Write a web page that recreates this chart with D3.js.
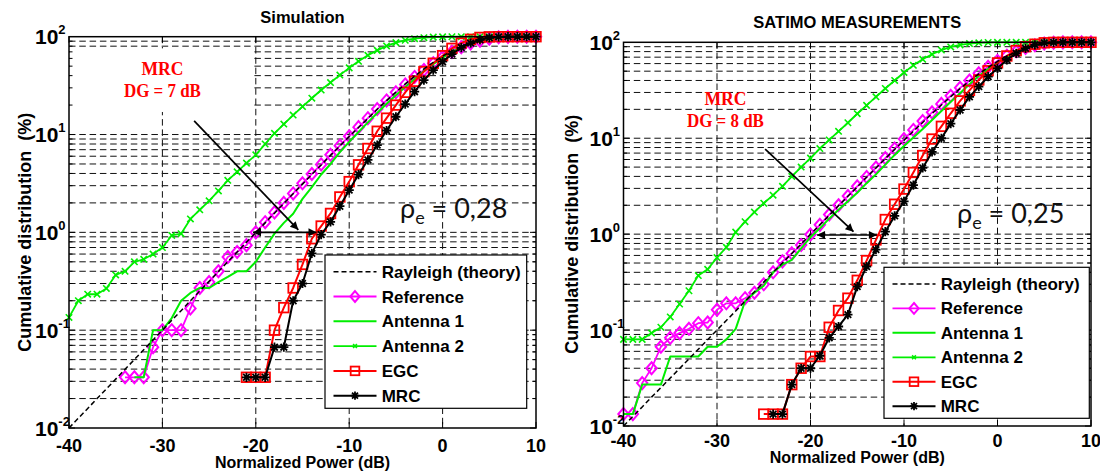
<!DOCTYPE html>
<html><head><meta charset="utf-8">
<script src="https://cdn.jsdelivr.net/npm/d3@7"></script>
<style>body{margin:0;background:#fff} svg{display:block}</style>
</head><body>
<svg id="c" width="1100" height="476"></svg>
<script>
// ---------- DATA ----------
const powerDb = [-40,-39,-38,-37,-36,-35,-34,-33,-32,-31,-30,-29,-28,-27,-26,-25,-24,-23,-22,-21,-20,-19,-18,-17,-16,-15,-14,-13,-12,-11,-10,-9,-8,-7,-6,-5,-4,-3,-2,-1,0,1,2,3,4,5,6,7,8,9,10];
const _ = null;
const rayleighTheory = [0.01,0.0126,0.0158,0.02,0.0251,0.0316,0.0398,0.0501,0.0631,0.0794,0.1,0.126,0.158,0.2,0.251,0.316,0.398,0.501,0.629,0.791,0.995,1.25,1.57,1.98,2.48,3.11,3.91,4.89,6.12,7.64,9.52,11.8,14.6,18.1,22.2,27.1,32.9,39.4,46.8,54.8,63.2,71.7,79.5,86.5,91.9,95.8,98.1,99.3,99.8,99.97,100];

// Simulation panel
const simReference = [_,_,_,_,_,_,0.033,0.033,0.033,0.067,0.1,0.1,0.1,0.167,0.27,0.31,0.4,0.56,0.63,0.74,1.0,1.27,1.6,2.0,2.5,3.17,3.95,4.95,6.2,7.7,9.6,11.9,14.7,18.2,22.3,27,32.5,38.8,45.7,53.5,61.5,70,78,85.5,91,95.5,98.5,99.6,100,100,100];
const simAntenna1 = [_,_,_,_,_,_,_,0.033,0.033,0.1,0.1,0.133,0.2,0.24,0.27,0.27,0.31,0.35,0.4,0.4,0.5,0.7,0.97,1.25,1.55,2.2,2.9,3.9,5.0,6.6,8.4,10.6,13.3,16.6,20.6,25.2,30.6,37,44.5,52.5,61,70,78.5,86,92,96,98.5,99.6,100,100,100];
const simAntenna2 = [0.135,0.2,0.233,0.233,0.267,0.367,0.4,0.5,0.53,0.6,0.7,0.93,0.97,1.37,1.7,2.1,2.65,3.4,4.15,5.1,6.2,8.0,10.3,12.8,15.8,19.3,23.5,28.5,34,40.5,48,56,64.5,72.5,80.5,87,92,95.5,97.8,99,99.6,99.9,100,100,100,100,100,100,100,100,100];
const simEGC = [_,_,_,_,_,_,_,_,_,_,_,_,_,_,_,_,_,_,_,0.033,0.033,0.033,0.1,0.17,0.27,0.47,0.86,1.16,1.56,2.3,3.3,4.9,7.2,10.8,14.7,20,27,35,44,53.5,64,76,86,94,98.3,99.7,100,100,100,100,100];
const simMRC = [_,_,_,_,_,_,_,_,_,_,_,_,_,_,_,_,_,_,_,0.033,0.033,0.033,0.067,0.067,0.2,0.3,0.61,0.95,1.28,1.85,2.7,3.9,5.5,7.8,11,15.2,20.5,27.4,36,45.5,55.5,66.5,77.5,86,93,97.5,99.5,100,100,100,100];

// SATIMO measurement panel
const measReference = [0.0133,0.0133,0.028,0.04,0.067,0.083,0.093,0.103,0.118,0.12,0.163,0.19,0.19,0.215,0.245,0.3,0.4,0.52,0.63,0.77,0.99,1.25,1.6,2.0,2.5,3.15,3.95,4.95,6.2,7.8,9.8,12.2,15.1,18.6,22.8,27.7,33.5,40,47.5,55.5,64,72.5,80.5,87.5,93,97,99,99.8,100,100,100];
const measAntenna1 = [0.0133,0.0133,0.027,0.027,0.027,0.053,0.053,0.053,0.053,0.067,0.067,0.08,0.103,0.2,0.245,0.29,0.4,0.48,0.54,0.71,0.93,1.15,1.45,1.8,2.2,2.7,3.4,4.2,5.3,6.7,8.3,10.2,12.5,15.5,19.2,24,29.5,36.5,44.5,53,61.5,70.5,79,86.5,92.5,96.5,98.8,99.7,100,100,100];
const measAntenna2 = [0.08,0.08,0.08,0.093,0.107,0.137,0.187,0.257,0.37,0.43,0.57,0.73,1.05,1.35,1.7,2.1,2.55,3.15,4.0,5.0,6.2,7.8,9.6,11.8,14.5,18,22,27,33,40,48.5,57.5,66.5,75,83,89.5,94,97,98.7,99.5,99.8,100,100,100,100,100,100,100,100,100,100];
const measEGC = [_,_,_,_,_,_,_,_,_,_,_,_,_,_,_,0.0133,0.0133,0.0133,0.027,0.04,0.053,0.053,0.107,0.16,0.215,0.33,0.53,0.87,1.42,2.05,2.95,4.4,6.6,9.8,13.3,18.2,24.5,31.5,40.5,50.5,61,72,82,90,95.5,98.8,99.8,100,100,100,100];
const measMRC = [_,_,_,_,_,_,_,_,_,_,_,_,_,_,_,_,0.0133,0.0133,0.027,0.04,0.04,0.054,0.083,0.109,0.145,0.284,0.46,0.69,1.06,1.55,2.2,3.25,4.9,7.2,10,14.2,19.7,27,34.5,43.8,53.6,65.5,76.8,86.5,94,98.5,99.8,100,100,100,100];

const xTickValues = [-40,-30,-20,-10,0,10];
const yTickExponents = [-2,-1,0,1,2];
const legendLabels = ["Rayleigh (theory)","Reference","Antenna 1","Antenna 2","EGC","MRC"];
const panelTitles = ["Simulation","SATIMO MEASUREMENTS"];
const xAxisTitle = "Normalized Power (dB)";
const yAxisTitle = "Cumulative distribution  (%)";
const dgLabels = ["DG = 7 dB","DG = 8 dB"];
const rhoValues = ["0,28","0,25"];
// annotation anchors in data units [dB, %]
const simArrows = [[[-26.6,13.8],[-15.45,1.06],false],[[-20.3,1.0],[-13.5,1.0],true]];
const measArrows = [[[-24.85,7.7],[-15.4,1.06],false],[[-19.3,0.98],[-12.9,0.98],true]];

// ---------- DRAW ----------
const SANS = "'Liberation Sans', Arial, Helvetica, sans-serif";
const SERIF = "'Liberation Serif', 'Times New Roman', serif";
const svg = d3.select("#c");
const defs = svg.append("defs");
defs.append("marker").attr("id","ah").attr("viewBox","0 0 10 10").attr("refX",10).attr("refY",5)
  .attr("markerWidth",11).attr("markerHeight",8).attr("markerUnits","userSpaceOnUse").attr("orient","auto-start-reverse")
  .append("path").attr("d","M0,0 L10,5 L0,10 Z").attr("fill","#000");

const seriesStyle = [
  {key:"ref", color:"#ff00ff", marker:"diamond", width:1.8},
  {key:"a1", color:"#00ee00", marker:null, width:2},
  {key:"a2", color:"#00ee00", marker:"x", width:1.8},
  {key:"egc", color:"#ff0000", marker:"square", width:2},
  {key:"mrc", color:"#000000", marker:"star", width:2},
];

function drawMarker(g, type, cx, cy, color, s=1) {
  if (type === "diamond") {
    g.append("path").attr("d",`M${cx},${cy-6*s} L${cx+5.2*s},${cy} L${cx},${cy+6*s} L${cx-5.2*s},${cy} Z`)
      .attr("fill","none").attr("stroke",color).attr("stroke-width",2);
  } else if (type === "square") {
    g.append("rect").attr("x",cx-4.8*s).attr("y",cy-4.8*s).attr("width",9.6*s).attr("height",9.6*s)
      .attr("fill","none").attr("stroke",color).attr("stroke-width",1.8);
  } else if (type === "x") {
    const r = 3.2*s;
    g.append("path").attr("d",`M${cx-r},${cy-r} L${cx+r},${cy+r} M${cx-r},${cy+r} L${cx+r},${cy-r}`)
      .attr("stroke",color).attr("stroke-width",1.6);
  } else if (type === "star") {
    const r = 4.6*s, q = 3.3*s;
    g.append("path").attr("d",`M${cx},${cy-r} L${cx},${cy+r} M${cx-r},${cy} L${cx+r},${cy} M${cx-q},${cy-q} L${cx+q},${cy+q} M${cx-q},${cy+q} L${cx+q},${cy-q}`)
      .attr("stroke",color).attr("stroke-width",1.8);
  }
}

const panels = [
  {title:panelTitles[0], box:[69,536,36.7,428], titleY:23.3, tickY:451.7, xlabY:468, ylabX:31,
   data:{ref:simReference,a1:simAntenna1,a2:simAntenna2,egc:simEGC,mrc:simMRC},
   dg:dgLabels[0], dgPos:[-30,40.6,24.4], rho:rhoValues[0], rhoPos:[-4.56,1.39],
   arrows:simArrows, white:[-40,-20.3,17,76], legend:[325,255,201.7,153.3]},
  {title:panelTitles[1], box:[623.5,1091,42.3,426], titleY:28.3, tickY:446.7, xlabY:463.3, ylabX:578,
   data:{ref:measReference,a1:measAntenna1,a2:measAntenna2,egc:measEGC,mrc:measMRC},
   dg:dgLabels[1], dgPos:[-29.1,22.2,13.2], rho:rhoValues[1], rhoPos:[-4.33,1.32],
   arrows:measArrows, white:null, legend:[884,267.3,205.3,151]},
];

panels.forEach(p => {
  const [X0,X1,Y0,Y1] = p.box;
  const x = d3.scaleLinear().domain([-40,10]).range([X0,X1]);
  const y = d3.scaleLog().domain([0.01,100]).range([Y1,Y0]);
  const g = svg.append("g");

  // grid
  const grid = g.append("g").attr("stroke","#111").attr("stroke-width",1).attr("stroke-dasharray","6.5,3.8");
  const yGridVals = [];
  for (let e=-2; e<2; e++) for (let m=1; m<10; m++) yGridVals.push(m*Math.pow(10,e));
  yGridVals.forEach(v => { if (v>0.01) grid.append("line").attr("x1",X0).attr("x2",X1).attr("y1",y(v)).attr("y2",y(v)); });
  xTickValues.filter(t=>t>-40 && t<10).forEach(t => grid.append("line").attr("x1",x(t)).attr("x2",x(t)).attr("y1",Y0).attr("y2",Y1));
  if (p.white) {
    const [a,b,c,d] = p.white;
    g.append("rect").attr("x",x(a)+1).attr("y",y(d)).attr("width",x(b)-x(a)-1).attr("height",y(c)-y(d)).attr("fill","#fff");
  }

  // ticks
  const tk = g.append("g").attr("stroke","#000").attr("stroke-width",1);
  xTickValues.forEach(t => {
    tk.append("line").attr("x1",x(t)).attr("x2",x(t)).attr("y1",Y1).attr("y2",Y1-6);
    tk.append("line").attr("x1",x(t)).attr("x2",x(t)).attr("y1",Y0).attr("y2",Y0+6);
  });
  yGridVals.forEach(v => {
    const len = (Math.abs(Math.log10(v)-Math.round(Math.log10(v)))<1e-9) ? 6 : 3.5;
    tk.append("line").attr("x1",X0).attr("x2",X0+len).attr("y1",y(v)).attr("y2",y(v));
    tk.append("line").attr("x1",X1).attr("x2",X1-len).attr("y1",y(v)).attr("y2",y(v));
  });

  // series
  const line = d3.line().x(d=>x(d.x)).y(d=>y(d.y));
  const ser = g.append("g");
  seriesStyle.forEach(s => {
    const pts = p.data[s.key].map((v,i)=>({x:powerDb[i], y:v})).filter(d=>d.y!=null);
    ser.append("path").attr("d",line(pts)).attr("fill","none").attr("stroke",s.color).attr("stroke-width",s.width).attr("stroke-linejoin","round");
    if (s.marker) pts.forEach(d => drawMarker(ser, s.marker, x(d.x), y(d.y), s.color));
  });
  const rpts = rayleighTheory.map((v,i)=>({x:powerDb[i], y:v}));
  ser.append("path").attr("d",line(rpts)).attr("fill","none").attr("stroke","#000").attr("stroke-width",1.5).attr("stroke-dasharray","5,3");

  // axes box
  g.append("rect").attr("x",X0).attr("y",Y0).attr("width",X1-X0).attr("height",Y1-Y0).attr("fill","none").attr("stroke","#000").attr("stroke-width",1.5);

  // tick labels
  xTickValues.forEach(t => g.append("text").attr("x",x(t)).attr("y",p.tickY).attr("text-anchor","middle")
    .attr("font-family",SANS).attr("font-weight","bold").attr("font-size",18).text(t));
  yTickExponents.forEach(e => {
    const t = g.append("text").attr("x",X0-34).attr("y",y(Math.pow(10,e))+7.5)
      .attr("font-family",SANS).attr("font-weight","bold").attr("font-size",21);
    t.append("tspan").text("10");
    t.append("tspan").attr("dy",-10).attr("font-size",13).text(e);
  });

  // titles
  g.append("text").attr("x",(X0+X1)/2).attr("y",p.titleY).attr("text-anchor","middle").attr("font-family",SANS)
    .attr("font-weight","bold").attr("font-size",16.5).text(p.title);
  g.append("text").attr("x",(X0+X1)/2).attr("y",p.xlabY).attr("text-anchor","middle").attr("font-family",SANS)
    .attr("font-weight","bold").attr("font-size",16).text(xAxisTitle);
  g.append("text").attr("transform",`translate(${p.ylabX},${(Y0+Y1)/2}) rotate(-90)`).attr("text-anchor","middle")
    .style("white-space","pre")
    .attr("font-family",SANS).attr("font-weight","bold").attr("font-size",18).text(yAxisTitle);

  // annotation text
  g.append("text").attr("x",x(p.dgPos[0])).attr("y",y(p.dgPos[1])).attr("text-anchor","middle").attr("fill","#ff0000")
    .attr("font-family",SERIF).attr("font-weight","bold").attr("font-size",19)
    .attr("textLength",42).attr("lengthAdjust","spacingAndGlyphs").text("MRC");
  g.append("text").attr("x",x(p.dgPos[0])).attr("y",y(p.dgPos[2])).attr("text-anchor","middle").attr("fill","#ff0000")
    .attr("font-family",SERIF).attr("font-weight","bold").attr("font-size",19)
    .attr("textLength",77).attr("lengthAdjust","spacingAndGlyphs").text(p.dg);
  p.arrows.forEach(([a,b,both]) => {
    const l = g.append("line").attr("x1",x(a[0])).attr("y1",y(a[1])).attr("x2",x(b[0])).attr("y2",y(b[1]))
      .attr("stroke","#000").attr("stroke-width",1.7).attr("marker-end","url(#ah)");
    if (both) l.attr("marker-start","url(#ah)");
  });
  const rt = g.append("text").attr("x",x(p.rhoPos[0])).attr("y",y(p.rhoPos[1])).attr("font-family","Lato, 'Open Sans', sans-serif")
    .attr("font-size",27).attr("fill","#111");
  rt.append("tspan").text("ρ");
  rt.append("tspan").attr("dy",6).attr("font-size",18).text("e");
  rt.append("tspan").attr("dy",-6).text(" = " + p.rho);

  // legend
  const [lx,ly,lw,lh] = p.legend;
  const lg = g.append("g");
  lg.append("rect").attr("x",lx).attr("y",ly).attr("width",lw).attr("height",lh).attr("fill","#fff").attr("stroke","#000").attr("stroke-width",1.2);
  const legendStyles = [{color:"#000",dash:"5,3",marker:null,width:1.5}].concat(seriesStyle.map(s=>({color:s.color,dash:null,marker:s.marker,width:s.width})));
  legendLabels.forEach((lab,i) => {
    const cy = ly + 16.7 + i*24.8*(lh/153.3);
    const ls = legendStyles[i];
    const l = lg.append("line").attr("x1",lx+8.5).attr("x2",lx+51.5).attr("y1",cy).attr("y2",cy).attr("stroke",ls.color).attr("stroke-width",ls.width);
    if (ls.dash) l.attr("stroke-dasharray",ls.dash);
    if (ls.marker) drawMarker(lg, ls.marker, lx+30, cy, ls.color, ls.marker==="x"?0.6:0.9);
    lg.append("text").attr("x",lx+56.7).attr("y",cy+6).attr("font-family",SANS).attr("font-weight","bold").attr("font-size",17).text(lab);
  });
});
</script>
</body></html>
